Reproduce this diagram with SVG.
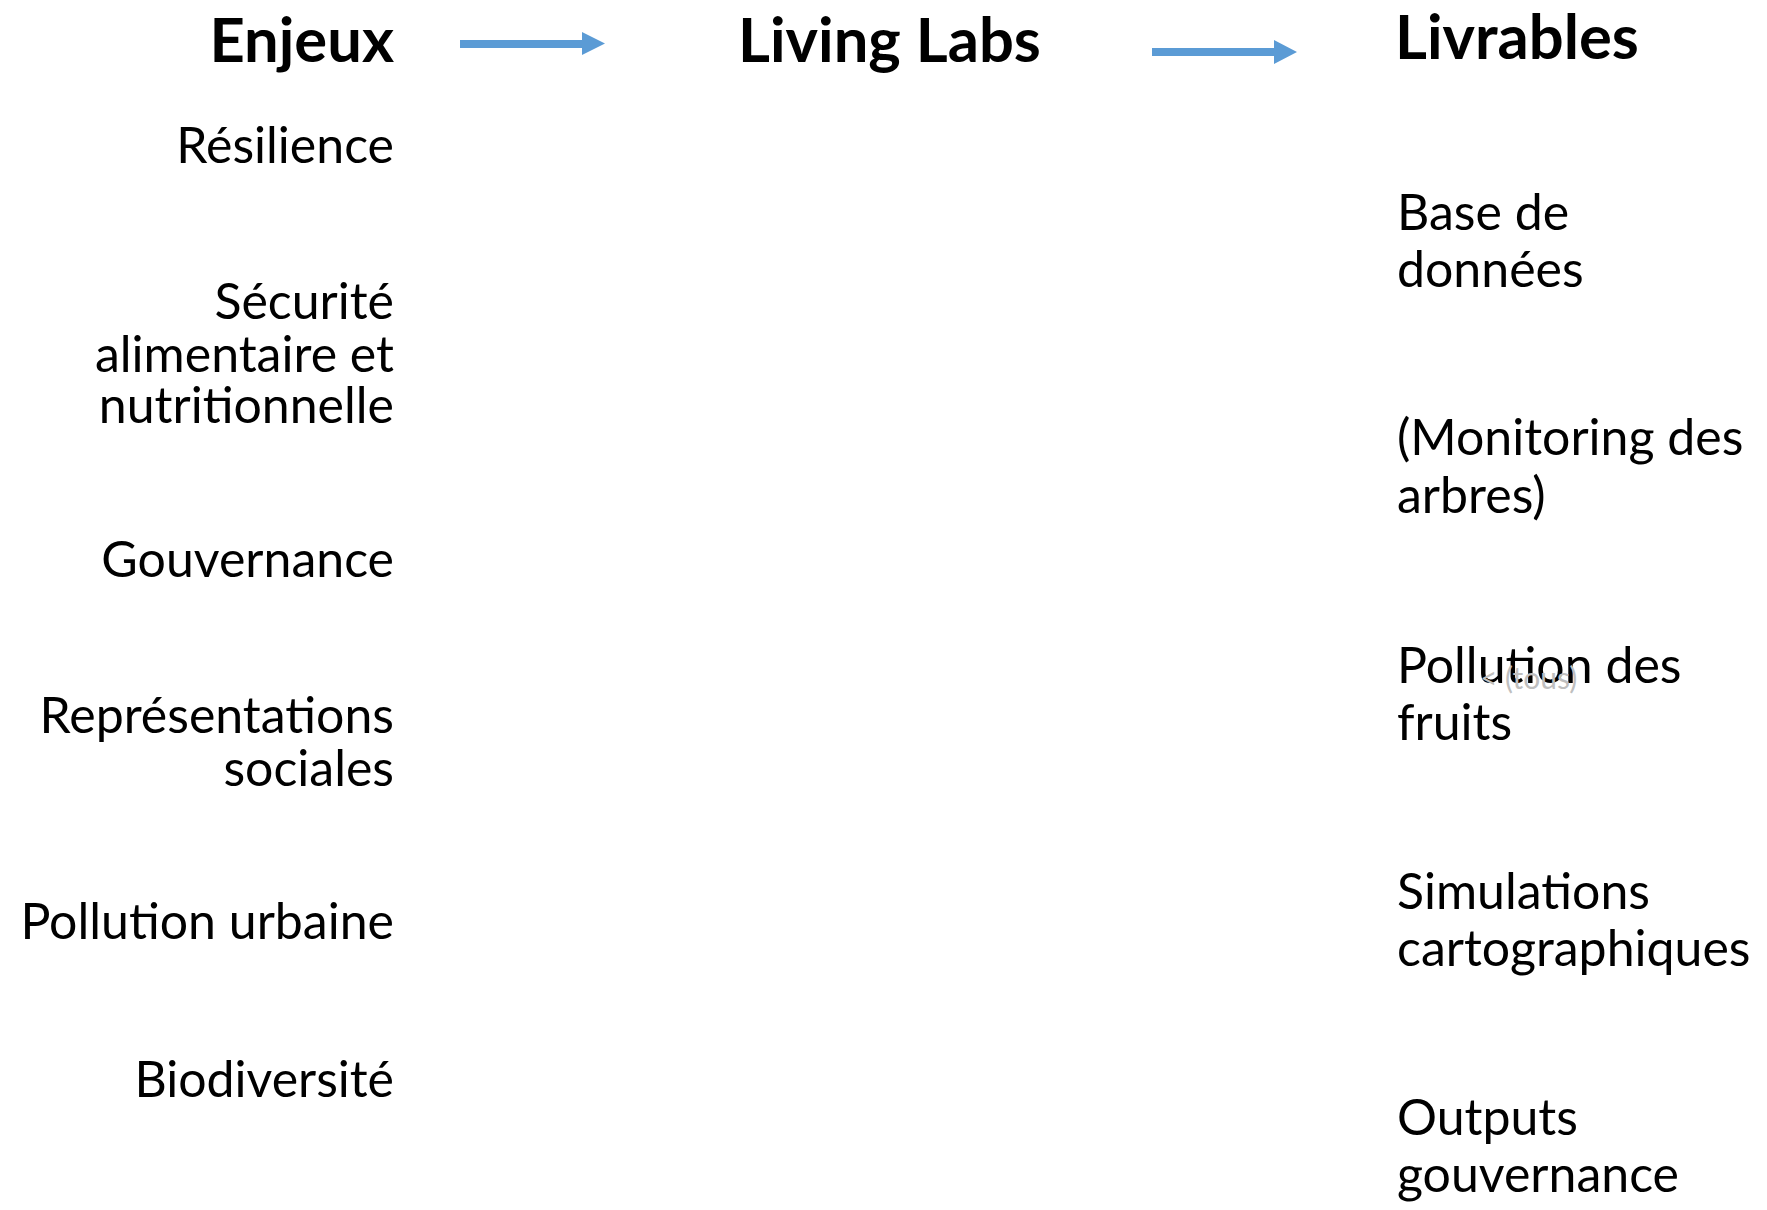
<svg xmlns="http://www.w3.org/2000/svg" width="1767" height="1210" viewBox="0 0 1767 1210">
<style>
text{font-family:Lato,"Open Sans","Liberation Sans",sans-serif;fill:#000}
.h{font-weight:bold;font-size:61.5px}
.t{font-size:50px}
.r{text-anchor:end}
.g{font-size:30px;fill:#bfbfbf}
.ar{fill:#5b9bd5}
</style>
<rect width="1767" height="1210" fill="#fff"/>
<g id="connectors">
<path class="ar" d="M460,40 H582 V32 L605,43.5 L582,55 V48 H460 Z"/>
<path class="ar" d="M1152,48 H1274 V40 L1297,52 L1274,64 V56 H1152 Z"/>
</g>
<g id="header-enjeux"><text class="h r" x="394" y="62">Enjeux</text></g>
<g id="header-living-labs"><text class="h" x="738" y="62">Living Labs</text></g>
<g id="header-livrables"><text class="h" x="1395" y="59">Livrables</text></g>
<g id="enjeu-resilience"><text class="t r" x="394" y="163">Résilience</text></g>
<g id="enjeu-securite"><text class="t r" x="394" y="319">Sécurité</text><text class="t r" x="394" y="372">alimentaire et</text><text class="t r" x="394" y="423">nutritionnelle</text></g>
<g id="enjeu-gouvernance"><text class="t r" x="394" y="577">Gouvernance</text></g>
<g id="enjeu-representations"><text class="t r" x="394" y="733">Représentations</text><text class="t r" x="394" y="786">sociales</text></g>
<g id="enjeu-pollution"><text class="t r" x="394" y="939">Pollution urbaine</text></g>
<g id="enjeu-biodiversite"><text class="t r" x="394" y="1097">Biodiversité</text></g>
<g id="livrable-base"><text class="t" x="1397" y="230">Base de</text><text class="t" x="1397" y="287">données</text></g>
<g id="livrable-monitoring"><text class="t" x="1397" y="455">(Monitoring des</text><text class="t" x="1397" y="513">arbres)</text></g>
<g id="livrable-pollution"><text class="t" x="1397" y="683">Pollution des</text><text class="t" x="1397" y="740">fruits</text><text class="g" x="1480" y="689">&lt; (tous)</text></g>
<g id="livrable-simulations"><text class="t" x="1397" y="909">Simulations</text><text class="t" x="1397" y="966">cartographiques</text></g>
<g id="livrable-outputs"><text class="t" x="1397" y="1135">Outputs</text><text class="t" x="1397" y="1192">gouvernance</text></g>
</svg>
